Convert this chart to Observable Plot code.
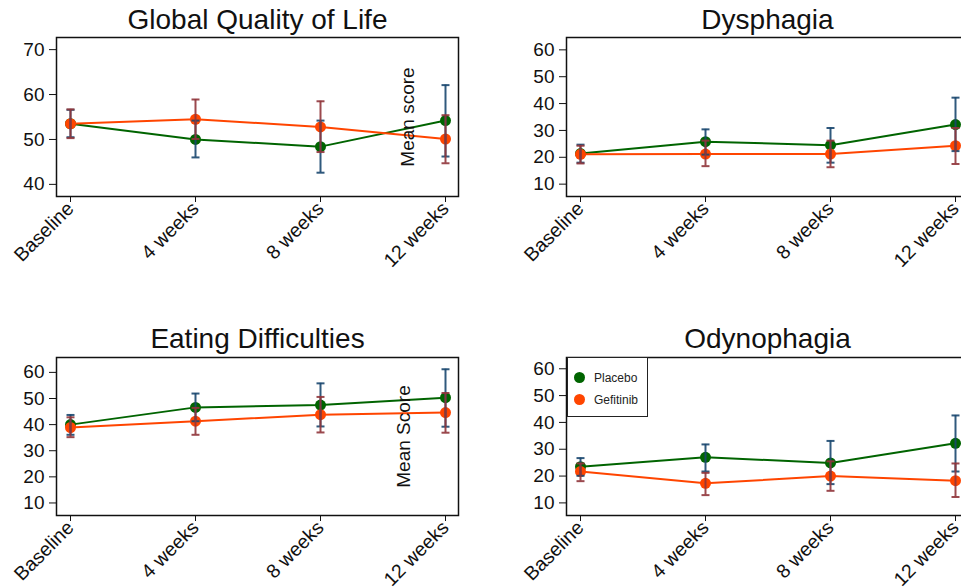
<!DOCTYPE html>
<html>
<head>
<meta charset="utf-8">
<script src="https://cdn.jsdelivr.net/npm/d3@7"></script>
<script src="https://cdn.jsdelivr.net/npm/@observablehq/plot@0.6"></script>
<style>
  body { margin: 0; background: #fff; }
  #wrap { position: relative; width: 961px; height: 588px; overflow: hidden; background: #fff;
          font-family: "Liberation Sans", Arial, Helvetica, sans-serif; }
  .panel { position: absolute; }
  .panel svg { max-width: none !important; }
  .legend { position: absolute; border: 1.5px solid #222; background: #fff; box-sizing: border-box; }
  .legend .item { position: absolute; left: 6px; height: 14px; font-size: 12px; line-height: 14px; color: #222; }
  .legend .sw { position: absolute; left: 0; top: 1px; width: 11px; height: 11px; border-radius: 50%; }
  .legend .lab { position: absolute; left: 20px; top: 0; white-space: nowrap; }
</style>
</head>
<body>
<div id="wrap"></div>
<script>
// ---------- data ----------
const timepoints = ["Baseline", "4 weeks", "8 weeks", "12 weeks"];
const groups = ["Placebo", "Gefitinib"];
const groupColors = ["#006400", "#ff4500"];   // line + marker
const ciColors = ["#1a476f", "#90353b"];      // confidence interval caps
const panelTitles = ["Global Quality of Life", "Dysphagia", "Eating Difficulties", "Odynophagia"];
const axisTitles = ["Mean score", null, "Mean Score", null];

// Global Quality of Life
const qolPlaceboMean = [53.5, 50.0, 48.4, 54.2];
const qolPlaceboLow  = [50.5, 46.0, 42.6, 46.2];
const qolPlaceboHigh = [56.6, 54.2, 54.2, 62.1];
const qolGefitinibMean = [53.5, 54.5, 52.8, 50.1];
const qolGefitinibLow  = [50.3, 50.1, 47.2, 44.7];
const qolGefitinibHigh = [56.7, 58.9, 58.5, 55.4];
const qolTicks = [40, 50, 60, 70];

// Dysphagia
const dysPlaceboMean = [21.4, 25.8, 24.5, 32.2];
const dysPlaceboLow  = [18.0, 21.0, 18.0, 22.3];
const dysPlaceboHigh = [24.7, 30.4, 30.9, 42.2];
const dysGefitinibMean = [21.1, 21.2, 21.2, 24.3];
const dysGefitinibLow  = [17.7, 16.7, 16.3, 17.5];
const dysGefitinibHigh = [24.3, 26.2, 26.2, 30.9];
const dysTicks = [10, 20, 30, 40, 50, 60];

// Eating Difficulties
const eatPlaceboMean = [40.0, 46.6, 47.5, 50.3];
const eatPlaceboLow  = [36.1, 41.3, 39.3, 39.2];
const eatPlaceboHigh = [43.7, 51.9, 55.8, 61.2];
const eatGefitinibMean = [38.9, 41.3, 43.8, 44.6];
const eatGefitinibLow  = [35.2, 36.1, 37.0, 36.9];
const eatGefitinibHigh = [42.8, 46.4, 50.6, 52.1];
const eatTicks = [10, 20, 30, 40, 50, 60];

// Odynophagia
const odyPlaceboMean = [23.5, 27.0, 24.9, 32.2];
const odyPlaceboLow  = [20.1, 21.7, 17.0, 21.7];
const odyPlaceboHigh = [26.7, 31.8, 33.1, 42.6];
const odyGefitinibMean = [21.7, 17.3, 20.0, 18.3];
const odyGefitinibLow  = [18.1, 12.9, 14.5, 12.2];
const odyGefitinibHigh = [24.7, 21.2, 25.5, 24.7];
const odyTicks = [10, 20, 30, 40, 50, 60];

// ---------- helpers ----------
function rowsFor(mean, low, high) {
  return timepoints.map((t, i) => ({t, mean: mean[i], low: low[i], high: high[i]}));
}

// horizontal cap symbol for the CI ends
const capSymbol = {
  draw(ctx, size) {
    const r = Math.sqrt(size / Math.PI);
    ctx.moveTo(-r, 0);
    ctx.lineTo(r, 0);
  }
};

function panel(cfg) {
  const series = [
    rowsFor(cfg.pMean, cfg.pLow, cfg.pHigh),
    rowsFor(cfg.gMean, cfg.gLow, cfg.gHigh)
  ];
  const marks = [
    Plot.axisY({ticks: cfg.ticks, tickSize: 7, tickPadding: 5, fontSize: 19, label: null}),
    Plot.axisX({tickSize: 6, tickPadding: 3, tickRotate: -45, fontSize: 19.5, label: null})
  ];
  series.forEach((rows, k) => {
    marks.push(Plot.line(rows, {x: "t", y: "mean", stroke: groupColors[k], strokeWidth: 2}));
    marks.push(Plot.dot(rows, {x: "t", y: "mean", fill: groupColors[k], r: 5.5}));
  });
  series.forEach((rows, k) => {
    marks.push(Plot.ruleX(rows, {x: "t", y1: "low", y2: "high", stroke: ciColors[k], strokeWidth: 2, strokeOpacity: 0.9}));
    marks.push(Plot.dot(rows, {x: "t", y: "low", symbol: capSymbol, r: 4, stroke: ciColors[k], fill: "none", strokeWidth: 2, strokeOpacity: 0.9}));
    marks.push(Plot.dot(rows, {x: "t", y: "high", symbol: capSymbol, r: 4, stroke: ciColors[k], fill: "none", strokeWidth: 2, strokeOpacity: 0.9}));
  });
  marks.push(Plot.frame({stroke: "#111", strokeWidth: 1.5}));
  marks.push(Plot.text([cfg.title], {text: d => d, frameAnchor: "top", dy: cfg.titleDy, lineAnchor: "bottom", fontSize: 28, fill: "#111"}));
  if (cfg.axisTitle) {
    marks.push(Plot.text([cfg.axisTitle], {text: d => d, frameAnchor: "right", dx: cfg.axisTitleDx, rotate: -90, textAnchor: "middle", lineAnchor: "bottom", fontSize: 19, fill: "#111"}));
  }
  const svg = Plot.plot({
    width: cfg.width,
    height: cfg.height,
    marginLeft: cfg.ml,
    marginRight: cfg.mr,
    marginTop: cfg.mt,
    marginBottom: cfg.mb,
    style: {fontFamily: '"Liberation Sans", Arial, Helvetica, sans-serif', color: "#111", background: "transparent", overflow: "visible", maxWidth: "none"},
    x: {type: "point", domain: timepoints, padding: 0, insetLeft: 13, insetRight: 12},
    y: {domain: cfg.yDomain},
    marks
  });
  svg.style.maxWidth = "none";
  const holder = document.createElement("div");
  holder.className = "panel";
  holder.style.left = cfg.left + "px";
  holder.style.top = cfg.top + "px";
  holder.style.width = cfg.width + "px";
  holder.style.height = cfg.height + "px";
  holder.appendChild(svg);
  document.getElementById("wrap").appendChild(holder);
}

// ---------- panels ----------
panel({title: panelTitles[0], axisTitle: axisTitles[0], axisTitleDx: -45, titleDy: -9,
  pMean: qolPlaceboMean, pLow: qolPlaceboLow, pHigh: qolPlaceboHigh,
  gMean: qolGefitinibMean, gLow: qolGefitinibLow, gHigh: qolGefitinibHigh,
  ticks: qolTicks, yDomain: [37.3, 72.7],
  left: 0, top: 0, width: 480, height: 294, ml: 56, mr: 22, mt: 37, mb: 98});

panel({title: panelTitles[1], axisTitle: axisTitles[1], titleDy: -9,
  pMean: dysPlaceboMean, pLow: dysPlaceboLow, pHigh: dysPlaceboHigh,
  gMean: dysGefitinibMean, gLow: dysGefitinibLow, gHigh: dysGefitinibHigh,
  ticks: dysTicks, yDomain: [5.4, 64.6],
  left: 480, top: 0, width: 490, height: 294, ml: 86, mr: 2, mt: 37, mb: 98});

panel({title: panelTitles[2], axisTitle: axisTitles[2], axisTitleDx: -49, titleDy: -10,
  pMean: eatPlaceboMean, pLow: eatPlaceboLow, pHigh: eatPlaceboHigh,
  gMean: eatGefitinibMean, gLow: eatGefitinibLow, gHigh: eatGefitinibHigh,
  ticks: eatTicks, yDomain: [5.2, 65.7],
  left: 0, top: 300, width: 480, height: 288, ml: 56, mr: 22, mt: 57, mb: 73});

panel({title: panelTitles[3], axisTitle: axisTitles[3], titleDy: -10,
  pMean: odyPlaceboMean, pLow: odyPlaceboLow, pHigh: odyPlaceboHigh,
  gMean: odyGefitinibMean, gLow: odyGefitinibLow, gHigh: odyGefitinibHigh,
  ticks: odyTicks, yDomain: [5.3, 64.2],
  left: 480, top: 300, width: 490, height: 288, ml: 86, mr: 2, mt: 57, mb: 73});

// ---------- legend (inside Odynophagia panel) ----------
const legend = document.createElement("div");
legend.className = "legend";
Object.assign(legend.style, {left: "567px", top: "357px", width: "81px", height: "60px"});
groups.forEach((g, k) => {
  const item = document.createElement("div");
  item.className = "item";
  item.style.top = (13 + k * 22) + "px";
  const sw = document.createElement("div");
  sw.className = "sw";
  sw.style.background = groupColors[k];
  const lab = document.createElement("div");
  lab.className = "lab";
  lab.textContent = g;
  item.appendChild(sw);
  item.appendChild(lab);
  legend.appendChild(item);
});
document.getElementById("wrap").appendChild(legend);
</script>
</body>
</html>
